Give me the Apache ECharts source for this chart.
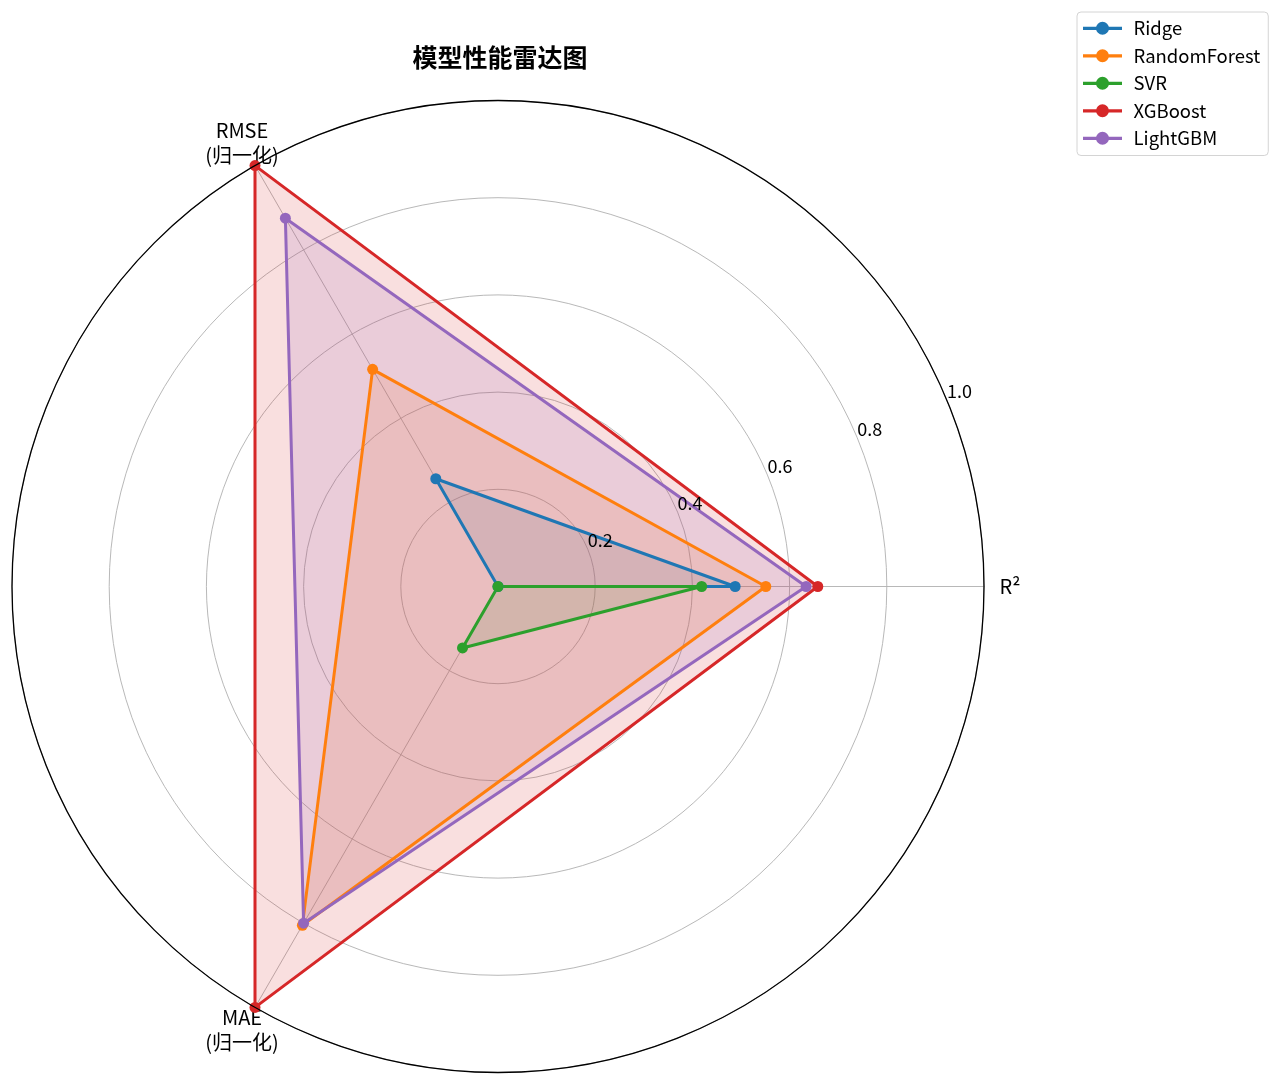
<!DOCTYPE html>
<html>
<head>
<meta charset="utf-8">
<script src="https://cdn.jsdelivr.net/npm/echarts@6/dist/echarts.min.js"></script>
<style>
  html, body { margin: 0; padding: 0; background: #fff; }
  #chart { width: 1280px; height: 1085px; }
</style>
</head>
<body>
<div id="chart"></div>
<script>
// 指标（雷达轴）
const metrics = ['R²', 'RMSE\n(归一化)', 'MAE\n(归一化)'];
// 模型名称和颜色
const models = ['Ridge', 'RandomForest', 'SVR', 'XGBoost', 'LightGBM'];
const colors = ['#1f77b4', '#ff7f0e', '#2ca02c', '#d62728', '#9467bd'];
// 每个模型的 [R², RMSE, MAE]
const ridge = [0.488, 0.256, 0.0];
const randomForest = [0.551, 0.516, 0.805];
const svr = [0.419, 0.0, 0.146];
const xgboost = [0.658, 1.0, 1.0];
const lightgbm = [0.634, 0.875, 0.80];
const radialTicks = [0, 0.2, 0.4, 0.6, 0.8, 1.0];

const values = [ridge, randomForest, svr, xgboost, lightgbm];
const FONT = 'Noto Sans CJK SC';
const CENTER = [498, 586.5];
const RADIUS = 486;

// 图例图标：线 + 圆点
const legendIcon = 'path://M0,4.5 L36,4.5 L36,7.5 L0,7.5 Z M18,0 A6,6 0 1,1 18,12 A6,6 0 1,1 18,0 Z';

let myChart = echarts.init(document.getElementById('chart'));

// 填充在下，折线在上（和 matplotlib 的 zorder 一样）
let fillData = [], lineData = [];
for (let i = 0; i < models.length; i++) {
    fillData.push({
        name: models[i],
        value: values[i],
        symbol: 'none',
        itemStyle: { color: colors[i] },
        lineStyle: { width: 0, opacity: 0 },
        areaStyle: { color: colors[i], opacity: 0.15 },
    });
    lineData.push({
        name: models[i],
        value: values[i],
        symbol: 'circle',
        symbolSize: 11,
        itemStyle: { color: colors[i] },
        lineStyle: { color: colors[i], width: 3 },
    });
}

let option = {
    backgroundColor: '#fff',
    textStyle: { fontFamily: FONT },
    title: {
        text: '模型性能雷达图',
        left: 495,
        top: 40,
        textAlign: 'center',
        textStyle: { fontFamily: FONT, fontSize: 25, fontWeight: 'bold', color: '#000' },
    },
    legend: {
        left: 1077,
        top: 12,
        orient: 'vertical',
        data: models,
        icon: legendIcon,
        itemWidth: 40,
        itemHeight: 13,
        itemGap: 9,
        padding: [7, 8, 8, 6],
        borderColor: '#d4d4d4',
        borderWidth: 1,
        borderRadius: 4,
        backgroundColor: '#fff',
        textStyle: { fontFamily: FONT, fontSize: 18.5, color: '#000', padding: [0, 0, 0, 6], lineHeight: 18 },
    },
    radar: {
        center: CENTER,
        radius: RADIUS,
        startAngle: 0,
        shape: 'circle',
        splitNumber: 5,
        indicator: metrics.map(function (m) { return { name: m, min: radialTicks[0], max: radialTicks[radialTicks.length - 1] }; }),
        nameGap: 26,
        axisName: {
            color: '#000',
            fontFamily: FONT,
            fontSize: 20,
            lineHeight: 25,
            align: 'center',
            verticalAlign: 'middle',
        },
        axisLine: { lineStyle: { color: '#b0b0b0', width: 0.9 } },
        axisTick: { show: false },
        axisLabel: { show: false },
        splitLine: { lineStyle: { color: '#b0b0b0', width: 0.9 } },
        splitArea: { show: false },
    },
    // 外圈和径向刻度标签
    polar: {
        center: CENTER,
        radius: RADIUS,
    },
    angleAxis: {
        type: 'value',
        min: 0,
        max: 360,
        startAngle: 22.5,
        z: 10,
        axisLine: { show: true, lineStyle: { color: '#000', width: 1.3 } },
        axisTick: { show: false },
        axisLabel: { show: false },
        splitLine: { show: false },
    },
    radiusAxis: {
        type: 'value',
        min: 0,
        max: 1,
        interval: 0.2,
        z: 10,
        axisLine: { show: false },
        axisTick: { show: false },
        splitLine: { show: false },
        axisLabel: {
            showMinLabel: false,
            margin: 0,
            align: 'left',
            verticalAlign: 'bottom',
            fontFamily: FONT,
            fontSize: 18,
            color: '#000',
            formatter: function (v) { return v.toFixed(1); },
        },
    },
    series: [{
        type: 'radar',
        data: fillData,
        z: 2,
        silent: true,
    }, {
        type: 'radar',
        data: lineData,
        z: 3,
    }],
};
myChart.setOption(option);
</script>
</body>
</html>
